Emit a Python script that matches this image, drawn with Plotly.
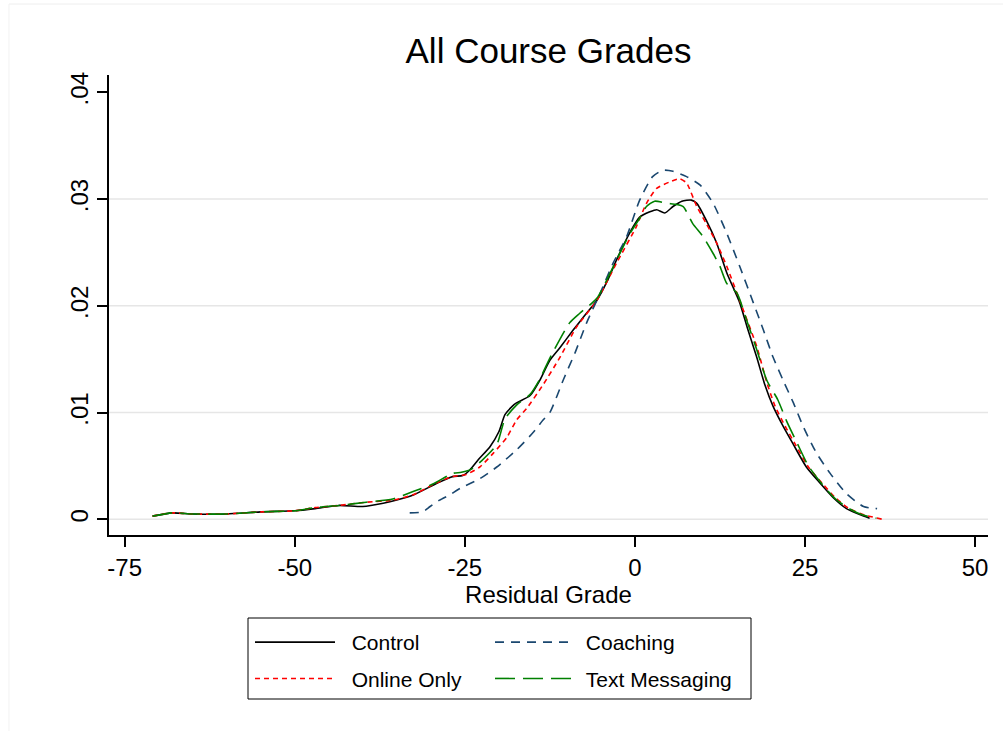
import plotly.graph_objects as go

# ---- data (kernel density estimates) ----
control_x = [-70.9, -68, -65, -60, -55, -50, -47, -43.5, -40, -37, -35, -32.5, -29, -26.8, -25.3,
             -24.3, -23, -21.3, -20, -19.1, -18, -17.4, -15.4, -14, -12.5, -11, -9.1, -7.5, -5.6,
             -4, -2.7, -0.7, 0.7, 2.2, 3.2, 4.4, 5.6, 6.9, 8.3, 9.1, 10.5, 12, 13.5, 15.4, 16.5,
             17.9, 19.1, 20.3, 21.8, 23.3, 25.2, 27.2, 29.2, 31.1, 33.6, 34.5]
control_y = [0.0003, 0.0006, 0.0005, 0.0005, 0.0007, 0.0008, 0.0010, 0.0013, 0.0012, 0.0015, 0.0018,
             0.0023, 0.0034, 0.0040, 0.0041, 0.0046, 0.0056, 0.0068, 0.0082, 0.0098, 0.0106, 0.0109,
             0.0116, 0.0130, 0.0149, 0.0161, 0.0177, 0.0190, 0.0205, 0.0224, 0.0243, 0.0269, 0.0283,
             0.0288, 0.0290, 0.0287, 0.0293, 0.0298, 0.0299, 0.0296, 0.0280, 0.0259, 0.0231, 0.0203,
             0.0180, 0.0152, 0.0126, 0.0106, 0.0087, 0.0070, 0.0049, 0.0034, 0.0020, 0.0010, 0.0003,
             0.0001]

online_x = [-70.9, -68, -65, -60, -55, -50, -47, -43.5, -39.5, -35.6, -32.6, -29.2, -26.8, -24.8,
            -22.8, -20.8, -18.8, -17.4, -15.9, -13.5, -11, -8.6, -5.6, -2.7, 0.2, 1.7, 3.2, 5.1,
            6.6, 7.6, 9.1, 10.5, 12, 13.5, 15.4, 17.9, 19.4, 20.6, 22.1, 23.6, 25.5, 27.5, 29.5,
            31.5, 33.8, 36.4]
online_y = [0.0003, 0.0006, 0.0005, 0.0005, 0.0007, 0.0008, 0.0011, 0.0013, 0.0016, 0.0018, 0.0023,
            0.0034, 0.0040, 0.0042, 0.0049, 0.0062, 0.0077, 0.0093, 0.0104, 0.0126, 0.0152, 0.0180,
            0.0205, 0.0240, 0.0274, 0.0296, 0.0310, 0.0316, 0.0319, 0.0315, 0.0293, 0.0277, 0.0259,
            0.0237, 0.0205, 0.0162, 0.0128, 0.0106, 0.0087, 0.0070, 0.0049, 0.0034, 0.0020, 0.0010,
            0.0004, 0.0000]

coach_x = [-33.1, -31.2, -30.1, -28.7, -27.2, -25.7, -22.8, -20.3, -17.4, -15, -13.5, -12.5, -10.5,
           -8.8, -7.1, -5.1, -3.2, -1.2, 0.7, 2.6, 4.1, 5.6, 7.6, 9.6, 11.5, 13.5, 15.4, 17.4, 18.9,
           20.3, 21.8, 23.3, 24.8, 26.7, 28.7, 31.1, 33.6, 35.6]
coach_y = [0.0006, 0.0007, 0.0012, 0.0018, 0.0023, 0.0029, 0.0038, 0.0049, 0.0065, 0.0081, 0.0093,
           0.0100, 0.0131, 0.0156, 0.0184, 0.0212, 0.0240, 0.0265, 0.0299, 0.0321, 0.0327, 0.0326,
           0.0321, 0.0313, 0.0296, 0.0268, 0.0237, 0.0203, 0.0177, 0.0152, 0.0130, 0.0109, 0.0086,
           0.0062, 0.0043, 0.0024, 0.0012, 0.0010]

text_x = [-70.9, -68, -65, -60, -55, -50, -47, -43.5, -39.5, -35.6, -32.6, -29.7, -26.8, -25.5, -24,
          -22.5, -20.3, -19.1, -17.4, -15.4, -14, -12.5, -9.6, -8.1, -5.6, -2.7, -0.7, 0.7, 1.7,
          2.9, 4.7, 6.1, 7.1, 8.5, 10, 11.5, 12.5, 13.5, 15, 16.4, 17.9, 19.4, 21.0, 22.3, 23.8,
          25.5, 27.5, 29.5, 31.5, 33.5, 35.5]
text_y = [0.0003, 0.0006, 0.0005, 0.0005, 0.0007, 0.0008, 0.0011, 0.0013, 0.0016, 0.0019, 0.0026,
          0.0033, 0.0043, 0.0044, 0.0047, 0.0055, 0.0070, 0.0094, 0.0107, 0.0117, 0.0131, 0.0151,
          0.0184, 0.0193, 0.0207, 0.0243, 0.0268, 0.0282, 0.0293, 0.0298, 0.0296, 0.0295, 0.0293,
          0.0277, 0.0265, 0.0249, 0.0237, 0.0221, 0.0212, 0.0187, 0.0159, 0.0130, 0.0112, 0.0092,
          0.0072, 0.0050, 0.0033, 0.0019, 0.0010, 0.0004, 0.0001]

x_ticks = [-75, -50, -25, 0, 25, 50]
x_ticktext = ["-75", "-50", "-25", "0", "25", "50"]
y_ticks = [0, 0.01, 0.02, 0.03, 0.04]
y_ticktext = ["0", ".01", ".02", ".03", ".04"]
y_grid = [0, 0.01, 0.02, 0.03]

FONT = "Liberation Sans, Arial, sans-serif"
NB = "\u00a0\u00a0"

fig = go.Figure()
fig.add_trace(go.Scatter(x=control_x, y=control_y, mode="lines", name=NB + "Control",
                         legend="legend", legendgroup="a",
                         line=dict(color="black", width=1.6, shape="spline", smoothing=0.6)))
fig.add_trace(go.Scatter(x=online_x, y=online_y, mode="lines", name=NB + "Online Only",
                         legend="legend", legendgroup="b",
                         line=dict(color="#ff0000", width=1.6, dash="5px,4px", shape="spline", smoothing=0.6)))
fig.add_trace(go.Scatter(x=coach_x, y=coach_y, mode="lines", name="\u00a0" + "Coaching",
                         legend="legend2", legendgroup="c",
                         line=dict(color="#1a476f", width=1.6, dash="9px,7px", shape="spline", smoothing=0.6)))
fig.add_trace(go.Scatter(x=text_x, y=text_y, mode="lines", name="\u00a0" + "Text Messaging",
                         legend="legend2", legendgroup="d",
                         line=dict(color="#008000", width=1.6, dash="20px,8px", shape="spline", smoothing=0.6)))

shapes = []
for g in y_grid:
    shapes.append(dict(type="line", xref="paper", yref="y", x0=0, x1=1, y0=g, y1=g,
                       line=dict(color="#e6e6e6", width=1.5), layer="below"))
# faint outer frame (top and left)
shapes.append(dict(type="line", xref="paper", yref="paper", x0=-0.1138, x1=1.03, y0=1.1543, y1=1.1543,
                   line=dict(color="#eeeeee", width=1)))
shapes.append(dict(type="line", xref="paper", yref="paper", x0=-0.1138, x1=-0.1138, y0=-0.45, y1=1.1543,
                   line=dict(color="#f2f2f2", width=1)))
# legend frame
shapes.append(dict(type="rect", xref="paper", yref="paper",
                   x0=(248 - 109) / 879, x1=(751 - 109) / 879,
                   y0=(535 - 699) / 460, y1=(535 - 618) / 460,
                   line=dict(color="black", width=1), fillcolor="rgba(0,0,0,0)"))

leg_common = dict(orientation="v", xanchor="left", yanchor="top", xref="paper", yref="paper",
                  borderwidth=0, bgcolor="rgba(0,0,0,0)",
                  font=dict(size=21, family=FONT, color="black"),
                  itemwidth=80, tracegroupgap=6, traceorder="grouped")

fig.update_layout(
    width=1003, height=731,
    margin=dict(l=109, r=15, t=75, b=196),
    paper_bgcolor="white", plot_bgcolor="white",
    font=dict(family=FONT, color="black"),
    title=dict(text="All Course Grades", x=0.5, xref="paper", xanchor="center",
               y=1 - 51 / 731, yref="container", yanchor="middle",
               font=dict(size=35, family=FONT, color="black")),
    showlegend=True,
    legend=dict(x=(250 - 109) / 879, y=(535 - 622) / 460, **leg_common),
    legend2=dict(x=(490 - 109) / 879, y=(535 - 622) / 460, **leg_common),
    shapes=shapes,
)
fig.update_xaxes(range=[-77.3, 51.9], tickvals=x_ticks, ticktext=x_ticktext,
                 ticks="outside", ticklen=10, tickwidth=1.5, tickcolor="black",
                 showline=True, linecolor="black", linewidth=1.5, showgrid=False, zeroline=False,
                 tickfont=dict(size=24, family=FONT, color="black"),
                 title=dict(text="Residual Grade", font=dict(size=24, family=FONT, color="black"), standoff=0))
fig.update_yaxes(range=[-0.00147, 0.04162], tickvals=y_ticks, ticktext=y_ticktext, tickangle=-90,
                 ticks="outside", ticklen=10, tickwidth=1.5, tickcolor="black",
                 showline=True, linecolor="black", linewidth=1.5, showgrid=False, zeroline=False,
                 tickfont=dict(size=24, family=FONT, color="black"))

fig.write_html("out.html", config={"displayModeBar": False},
               post_script="document.body.style.margin='0px';")
